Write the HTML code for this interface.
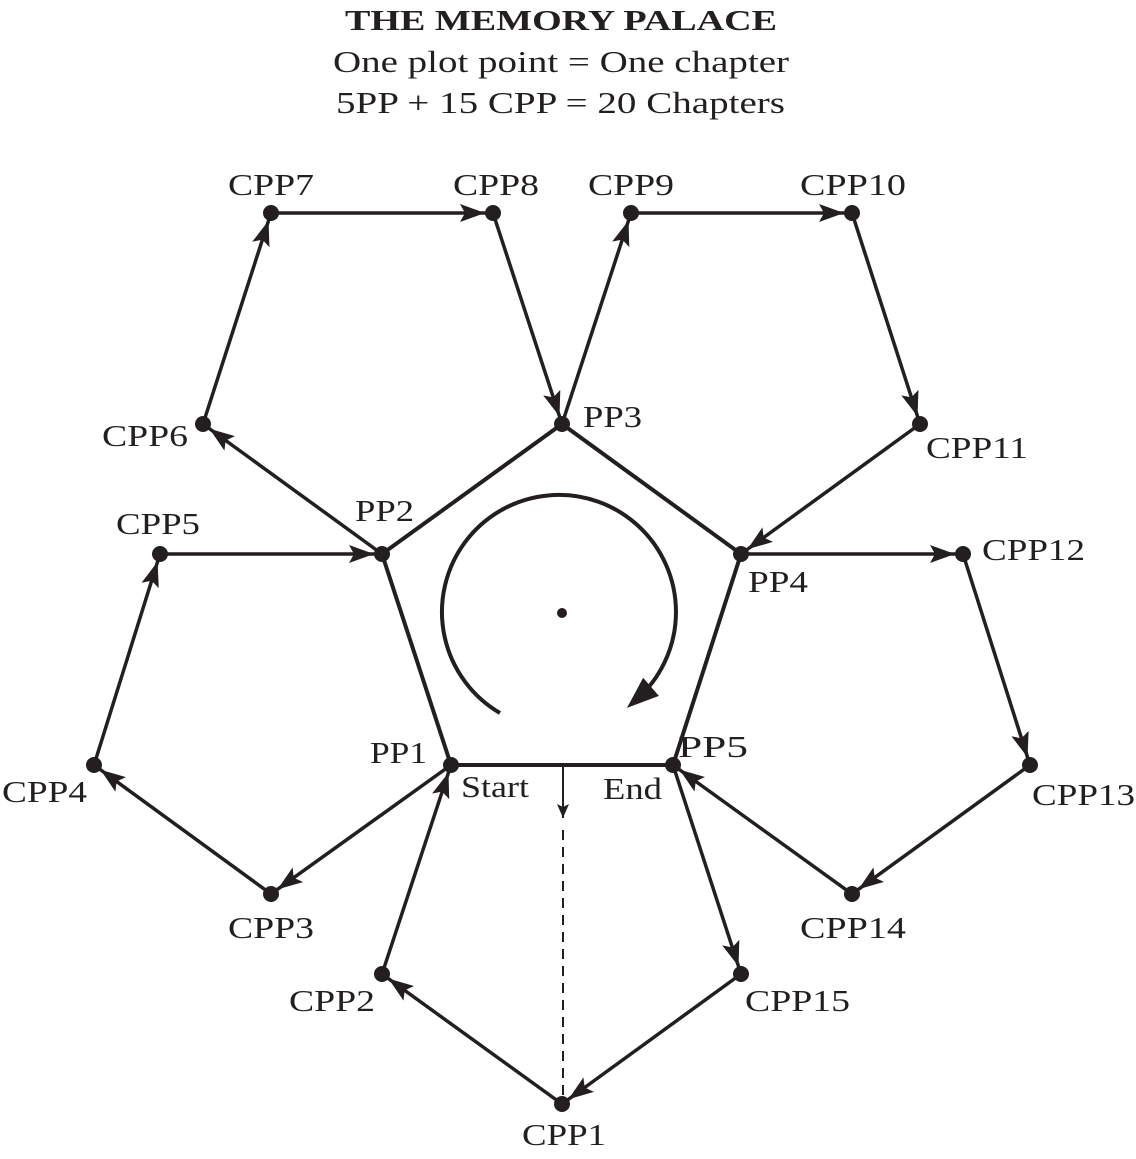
<!DOCTYPE html>
<html><head><meta charset="utf-8"><style>
html,body{margin:0;padding:0;background:#fff}
svg text{font-family:"Liberation Serif",serif;fill:#231f20}
</style></head><body>
<svg width="1136" height="1154" viewBox="0 0 1136 1154" xmlns="http://www.w3.org/2000/svg">
<defs>
<marker id="a" markerUnits="userSpaceOnUse" markerWidth="40" markerHeight="24" refX="33" refY="9" orient="auto">
<path d="M0,0 L25,9 L0,18 L5,9 z" fill="#231f20"/>
</marker>
<marker id="b" markerUnits="userSpaceOnUse" markerWidth="40" markerHeight="30" refX="20" refY="12" orient="auto">
<path d="M0,0 L32,12 L0,24 z" fill="#231f20"/>
</marker>
<marker id="c" markerUnits="userSpaceOnUse" markerWidth="20" markerHeight="20" refX="14" refY="6" orient="auto">
<path d="M0,0 L14,6 L0,12 L3,6 z" fill="#231f20"/>
</marker>
</defs>
<g lengthAdjust="spacingAndGlyphs">
<text x="345" y="30" font-size="29" font-weight="bold" textLength="432" lengthAdjust="spacingAndGlyphs">THE MEMORY PALACE</text>
<text x="333" y="72" font-size="31" textLength="456" lengthAdjust="spacingAndGlyphs">One plot point = One chapter</text>
<text x="336" y="113" font-size="31" textLength="449" lengthAdjust="spacingAndGlyphs">5PP + 15 CPP = 20 Chapters</text>
</g>
<g stroke="#231f20" stroke-width="4" fill="none">
<polygon points="451,765 382,554 562,424 741,554 673,765"/>
</g>
<g stroke="#231f20" stroke-width="3.5" fill="none" marker-end="url(#a)">
<line x1="451" y1="765" x2="271" y2="894"/>
<line x1="271" y1="894" x2="94" y2="765"/>
<line x1="94" y1="765" x2="160" y2="554"/>
<line x1="160" y1="554" x2="382" y2="554"/>
<line x1="382" y1="554" x2="203" y2="424"/>
<line x1="203" y1="424" x2="271" y2="213"/>
<line x1="271" y1="213" x2="493" y2="213"/>
<line x1="493" y1="213" x2="562" y2="424"/>
<line x1="562" y1="424" x2="631" y2="213"/>
<line x1="631" y1="213" x2="852" y2="213"/>
<line x1="852" y1="213" x2="920" y2="424"/>
<line x1="920" y1="424" x2="741" y2="554"/>
<line x1="741" y1="554" x2="963" y2="554"/>
<line x1="963" y1="554" x2="1030" y2="765"/>
<line x1="1030" y1="765" x2="852" y2="894"/>
<line x1="852" y1="894" x2="673" y2="765"/>
<line x1="673" y1="765" x2="741" y2="974"/>
<line x1="741" y1="974" x2="562" y2="1104"/>
<line x1="562" y1="1104" x2="382" y2="974"/>
<line x1="382" y1="974" x2="451" y2="765"/>
</g>
<line x1="563" y1="765" x2="563" y2="818" stroke="#231f20" stroke-width="2" marker-end="url(#c)"/>
<line x1="563" y1="830" x2="563" y2="1095" stroke="#231f20" stroke-width="2" stroke-dasharray="10,7"/>
<path d="M500,713 A117,117 0 1 1 636,700" stroke="#231f20" stroke-width="4" fill="none" marker-end="url(#b)"/>
<g fill="#231f20">
<circle cx="562" cy="613" r="5"/>
<circle cx="451" cy="765" r="8"/><circle cx="382" cy="554" r="8"/><circle cx="562" cy="424" r="8"/><circle cx="741" cy="554" r="8"/><circle cx="673" cy="765" r="8"/>
<circle cx="562" cy="1104" r="8"/><circle cx="382" cy="974" r="8"/><circle cx="271" cy="894" r="8"/><circle cx="94" cy="765" r="8"/><circle cx="160" cy="554" r="8"/>
<circle cx="203" cy="424" r="8"/><circle cx="271" cy="213" r="8"/><circle cx="493" cy="213" r="8"/><circle cx="631" cy="213" r="8"/><circle cx="852" cy="213" r="8"/>
<circle cx="920" cy="424" r="8"/><circle cx="963" cy="554" r="8"/><circle cx="1030" cy="765" r="8"/><circle cx="852" cy="894" r="8"/><circle cx="741" cy="974" r="8"/>
</g>
<g font-size="31">
<text x="228" y="195" textLength="86" lengthAdjust="spacingAndGlyphs">CPP7</text>
<text x="453" y="195" textLength="86" lengthAdjust="spacingAndGlyphs">CPP8</text>
<text x="588" y="195" textLength="86" lengthAdjust="spacingAndGlyphs">CPP9</text>
<text x="800" y="195" textLength="106" lengthAdjust="spacingAndGlyphs">CPP10</text>
<text x="583" y="427" textLength="59" lengthAdjust="spacingAndGlyphs">PP3</text>
<text x="102" y="446" textLength="86" lengthAdjust="spacingAndGlyphs">CPP6</text>
<text x="926" y="458" textLength="102" lengthAdjust="spacingAndGlyphs">CPP11</text>
<text x="355" y="521" textLength="59" lengthAdjust="spacingAndGlyphs">PP2</text>
<text x="116" y="534" textLength="84" lengthAdjust="spacingAndGlyphs">CPP5</text>
<text x="748" y="592" textLength="60" lengthAdjust="spacingAndGlyphs">PP4</text>
<text x="982" y="560" textLength="103" lengthAdjust="spacingAndGlyphs">CPP12</text>
<text x="370" y="763" textLength="57" lengthAdjust="spacingAndGlyphs">PP1</text>
<text x="2" y="802" textLength="85" lengthAdjust="spacingAndGlyphs">CPP4</text>
<text x="461" y="797" textLength="68" lengthAdjust="spacingAndGlyphs">Start</text>
<text x="603" y="799" textLength="59" lengthAdjust="spacingAndGlyphs">End</text>
<text x="678" y="757" textLength="70" lengthAdjust="spacingAndGlyphs">PP5</text>
<text x="1032" y="805" textLength="103" lengthAdjust="spacingAndGlyphs">CPP13</text>
<text x="228" y="938" textLength="86" lengthAdjust="spacingAndGlyphs">CPP3</text>
<text x="800" y="938" textLength="106" lengthAdjust="spacingAndGlyphs">CPP14</text>
<text x="289" y="1011" textLength="86" lengthAdjust="spacingAndGlyphs">CPP2</text>
<text x="745" y="1011" textLength="105" lengthAdjust="spacingAndGlyphs">CPP15</text>
<text x="522" y="1145" textLength="84" lengthAdjust="spacingAndGlyphs">CPP1</text>
</g>
</svg>
</body></html>
